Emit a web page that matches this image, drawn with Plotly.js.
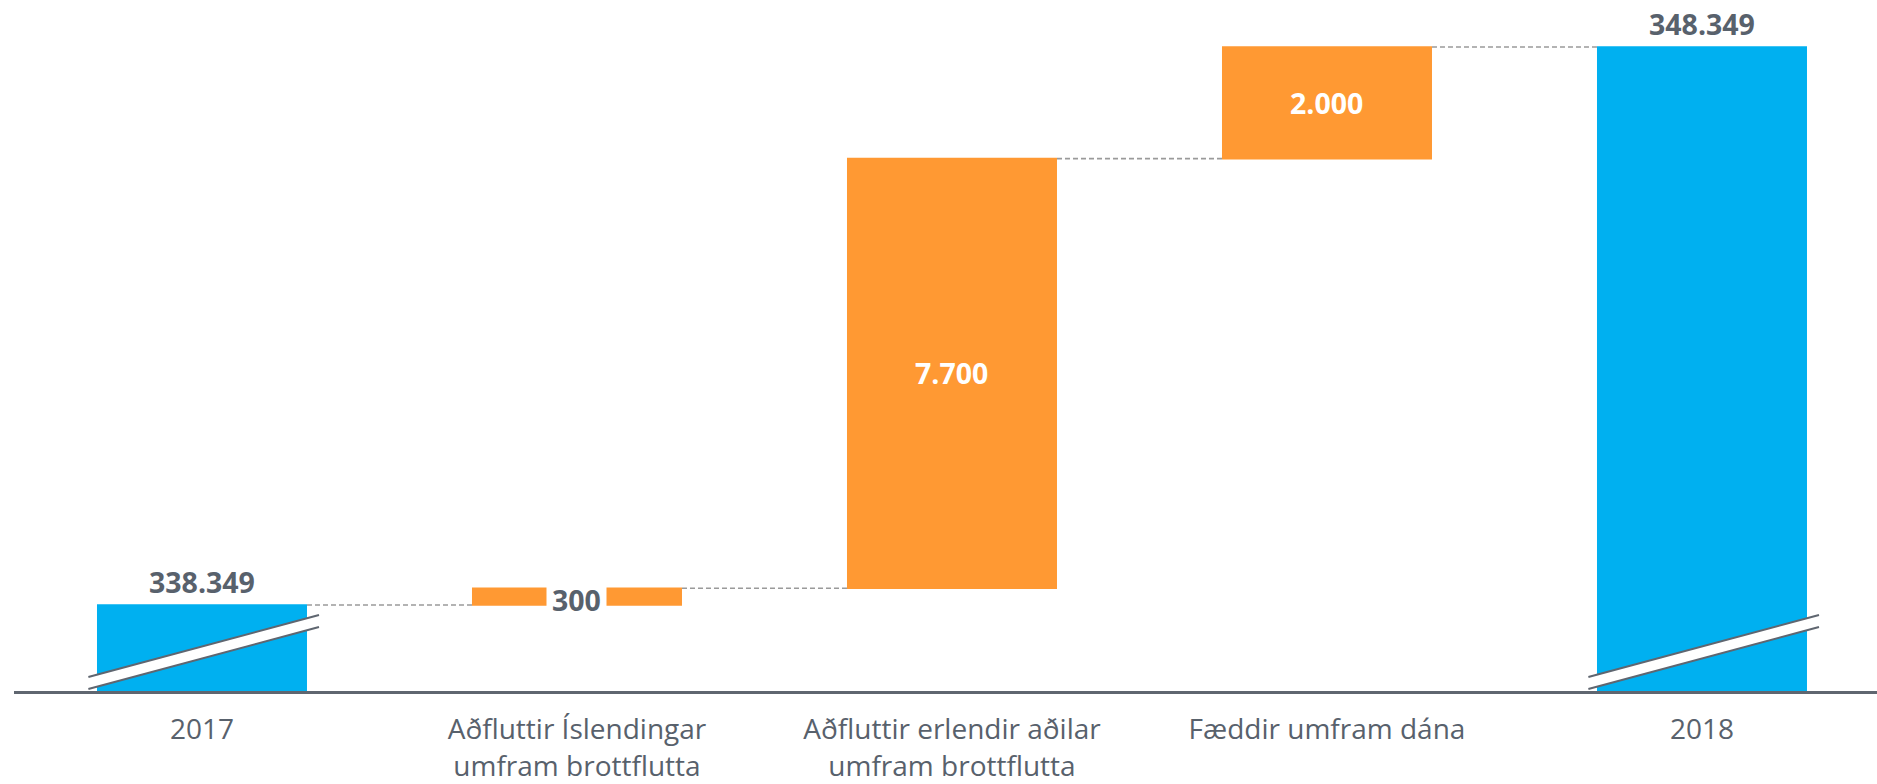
<!DOCTYPE html>
<html>
<head>
<meta charset="utf-8">
<script src="https://cdn.plot.ly/plotly-3.0.1.min.js"></script>
<style>
  html, body { margin: 0; padding: 0; background: #ffffff; }
  #chart { width: 1877px; height: 784px; }
</style>
</head>
<body>
<div id="chart"></div>
<script>
// ---- Data ----
const categories = [
  '2017',
  'Aðfluttir Íslendingar<br>umfram brottflutta',
  'Aðfluttir erlendir aðilar<br>umfram brottflutta',
  'Fæddir umfram dána',
  '2018'
];
const values = [338349, 300, 7700, 2000, 348349];
const measures = ['absolute', 'relative', 'relative', 'relative', 'total'];
const labelPlacement = ['above', 'gap', 'inside', 'inside', 'above'];

// ---- Styling ----
const BLUE = '#00B0F0';
const ORANGE = '#FF9933';
const TEXT = '#58616C';
const AXIS = '#5F6670';
const FONT = '"Open Sans", "Noto Sans", sans-serif';

function fmt(v) {
  return String(Math.round(v)).replace(/\B(?=(\d{3})+(?!\d))/g, '.');
}

const xIdx = categories.map((_, i) => i);

// running ends / starts
const ends = [];
const starts = [];
let run = 0;
measures.forEach((m, i) => {
  if (m === 'absolute') { starts.push(0); run = values[i]; }
  else if (m === 'total') { starts.push(0); }
  else { starts.push(run); run += values[i]; }
  ends.push(run);
});

const trace = {
  type: 'waterfall',
  x: xIdx,
  y: values,
  measure: measures,
  width: 0.56,
  hoverinfo: 'skip',
  textinfo: 'none',
  increasing: { marker: { color: ORANGE } },
  decreasing: { marker: { color: ORANGE } },
  totals: { marker: { color: BLUE } },
  connector: { mode: 'between', line: { color: '#9A9A9A', width: 1.6, dash: '5px,3px' } }
};

const annotations = [];
values.forEach((v, i) => {
  const place = labelPlacement[i];
  const label = measures[i] === 'total' ? fmt(ends[i]) : fmt(v);
  if (place === 'above') {
    annotations.push({
      x: i, y: ends[i], xref: 'x', yref: 'y', text: '<b>' + label + '</b>',
      showarrow: false, yanchor: 'bottom', yshift: 2,
      font: { family: FONT, size: 28.5, color: TEXT }
    });
  } else if (place === 'gap') {
    annotations.push({
      x: i, y: (starts[i] + ends[i]) / 2, xref: 'x', yref: 'y', text: '<b>' + label + '</b>',
      showarrow: false, yanchor: 'middle', yshift: -3,
      bgcolor: '#ffffff', borderpad: 5,
      font: { family: FONT, size: 28.5, color: TEXT }
    });
  } else {
    annotations.push({
      x: i, y: (starts[i] + ends[i]) / 2, xref: 'x', yref: 'y', text: '<b>' + label + '</b>',
      showarrow: false, yanchor: 'middle',
      font: { family: FONT, size: 28.5, color: '#ffffff' }
    });
  }
});

// axis-break marks on bars that start from zero
const shapes = [];
measures.forEach((m, i) => {
  if (m !== 'absolute' && m !== 'total') return;
  const xl = i - 0.303, xr = i + 0.312;
  const yl1 = 0.0029, yr1 = 0.0926, yl2 = 0.0203, yr2 = 0.110;
  shapes.push({
    type: 'path', xref: 'x', yref: 'paper', layer: 'above',
    path: `M ${xl} ${yl1} L ${xr} ${yr1} L ${xr} ${yr2} L ${xl} ${yl2} Z`,
    fillcolor: '#ffffff', line: { width: 0 }
  });
  shapes.push({ type: 'line', xref: 'x', yref: 'paper', layer: 'above',
    x0: xl, y0: yl1, x1: xr, y1: yr1, line: { color: AXIS, width: 2 } });
  shapes.push({ type: 'line', xref: 'x', yref: 'paper', layer: 'above',
    x0: xl, y0: yl2, x1: xr, y1: yr2, line: { color: AXIS, width: 2 } });
});

const layout = {
  width: 1877,
  height: 784,
  margin: { l: 14, r: 0, t: 0, b: 93 },
  paper_bgcolor: '#ffffff',
  plot_bgcolor: '#ffffff',
  showlegend: false,
  font: { family: FONT, color: TEXT },
  xaxis: {
    type: 'linear',
    range: [-0.5013, 4.4667],
    tickvals: xIdx,
    ticktext: categories,
    ticks: '',
    showgrid: false,
    zeroline: false,
    showline: true,
    linecolor: AXIS,
    linewidth: 2.5,
    tickfont: { family: FONT, size: 28, color: TEXT },
    ticklabelstandoff: 12,
    fixedrange: true
  },
  yaxis: {
    range: [336808, 349192],
    showgrid: false,
    zeroline: false,
    showline: false,
    showticklabels: false,
    ticks: '',
    fixedrange: true
  },
  annotations: annotations,
  shapes: shapes
};

Plotly.newPlot('chart', [trace], layout, { displayModeBar: false, staticPlot: true });
</script>
</body>
</html>
